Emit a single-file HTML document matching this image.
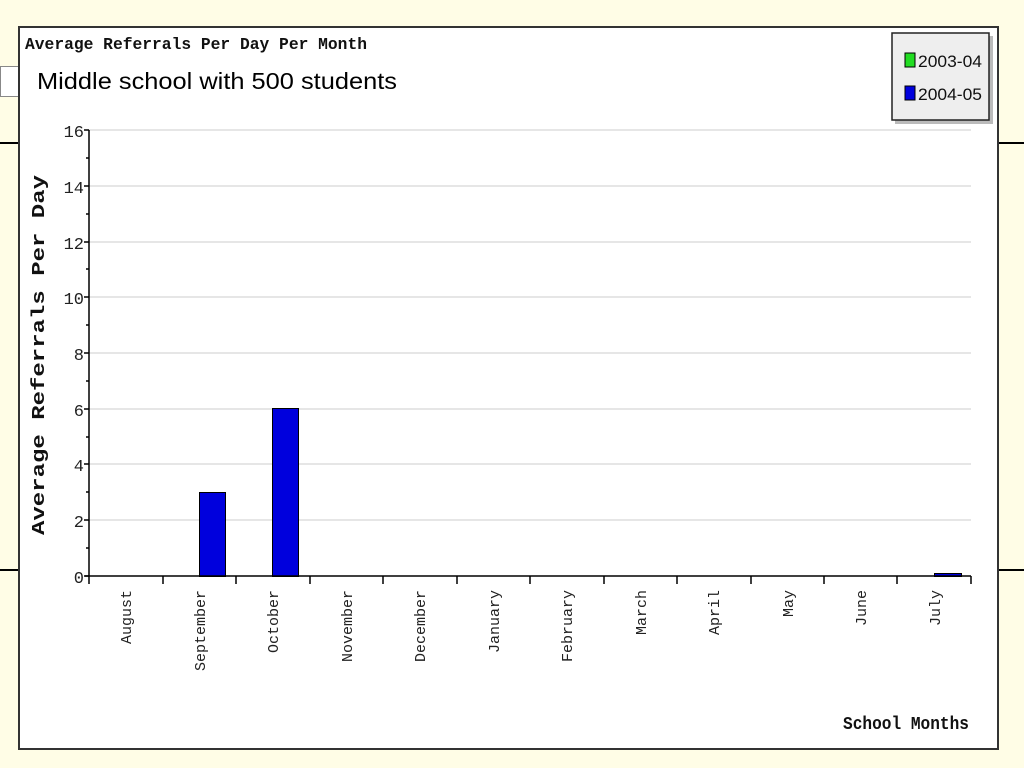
<!DOCTYPE html>
<html><head><style>
body{margin:0;background:#fffde6;width:1024px;height:768px;overflow:hidden}
</style></head><body>
<svg width="1024" height="768" xmlns="http://www.w3.org/2000/svg" style="position:absolute;left:0;top:0">
<rect x="0" y="0" width="1024" height="768" fill="#fffde6"/>
<line x1="0" y1="143" x2="20" y2="143" stroke="#000" stroke-width="2"/>
<line x1="0" y1="570" x2="20" y2="570" stroke="#000" stroke-width="2"/>
<line x1="998" y1="143" x2="1024" y2="143" stroke="#000" stroke-width="2"/>
<line x1="998" y1="570" x2="1024" y2="570" stroke="#000" stroke-width="2"/>
<rect x="0.5" y="66.5" width="22" height="30" fill="#fff" stroke="#888"/>
<rect x="19" y="27" width="979" height="722" fill="#fff" stroke="#333" stroke-width="2"/>
<text x="25" y="49" font-family="Liberation Mono, monospace" font-size="17" font-weight="bold" fill="#111" textLength="342" lengthAdjust="spacingAndGlyphs">Average Referrals Per Day Per Month</text>
<text x="37" y="89" font-family="Liberation Sans, sans-serif" font-size="23" fill="#000" textLength="360" lengthAdjust="spacingAndGlyphs">Middle school with 500 students</text>
<rect x="895" y="36" width="98" height="88" fill="#bbb"/>
<rect x="892" y="33" width="97" height="87" fill="#eee" stroke="#222" stroke-width="1.5"/>
<rect x="905" y="53" width="10" height="14" fill="#22dd22" stroke="#000"/>
<rect x="905" y="86" width="10" height="14" fill="#0000dd" stroke="#000"/>
<text x="918" y="67" font-family="Liberation Sans, sans-serif" font-size="17" fill="#111" textLength="64" lengthAdjust="spacingAndGlyphs">2003-04</text>
<text x="918" y="100" font-family="Liberation Sans, sans-serif" font-size="17" fill="#111" textLength="64" lengthAdjust="spacingAndGlyphs">2004-05</text>
<g stroke="#ddd" stroke-width="1.5">
<line x1="89" y1="130" x2="971" y2="130"/><line x1="89" y1="186" x2="971" y2="186"/>
<line x1="89" y1="242" x2="971" y2="242"/><line x1="89" y1="297" x2="971" y2="297"/>
<line x1="89" y1="353" x2="971" y2="353"/><line x1="89" y1="409" x2="971" y2="409"/>
<line x1="89" y1="464" x2="971" y2="464"/><line x1="89" y1="520" x2="971" y2="520"/>
</g>
<g fill="#0000dd" stroke="#000" stroke-width="1">
<rect x="199.5" y="492.5" width="26" height="84"/>
<rect x="272.5" y="408.5" width="26" height="168"/>
<rect x="934.5" y="573.5" width="27" height="3"/>
</g>
<g stroke="#000" stroke-width="1.5" fill="none">
<line x1="89" y1="130" x2="89" y2="584"/>
<line x1="85" y1="576" x2="971" y2="576"/>
<path d="M84 130H89M84 186H89M84 242H89M84 297H89M84 353H89M84 409H89M84 464H89M84 520H89M84 576H89"/>
<path d="M86 158H89M86 214H89M86 269H89M86 325H89M86 381H89M86 437H89M86 492H89M86 548H89"/>
<path d="M163 576V584M236 576V584M310 576V584M383 576V584M457 576V584M530 576V584M604 576V584M677 576V584M751 576V584M824 576V584M897 576V584M971 576V584"/>
</g>
<g font-family="Liberation Mono, monospace" font-size="17" fill="#222" text-anchor="end">
<text x="84" y="137">16</text><text x="84" y="193">14</text><text x="84" y="249">12</text>
<text x="84" y="304">10</text><text x="84" y="360">8</text><text x="84" y="416">6</text>
<text x="84" y="471">4</text><text x="84" y="527">2</text><text x="84" y="583">0</text>
</g>
<text transform="translate(44,355) rotate(-90)" text-anchor="middle" font-family="Liberation Mono, monospace" font-size="18" font-weight="bold" fill="#111" textLength="360" lengthAdjust="spacingAndGlyphs">Average Referrals Per Day</text>
<g font-family="Liberation Mono, monospace" font-size="15" fill="#222" text-anchor="end">
<text transform="translate(131,590) rotate(-90)">August</text>
<text transform="translate(205,590) rotate(-90)">September</text>
<text transform="translate(278,590) rotate(-90)">October</text>
<text transform="translate(352,590) rotate(-90)">November</text>
<text transform="translate(425,590) rotate(-90)">December</text>
<text transform="translate(499,590) rotate(-90)">January</text>
<text transform="translate(572,590) rotate(-90)">February</text>
<text transform="translate(646,590) rotate(-90)">March</text>
<text transform="translate(719,590) rotate(-90)">April</text>
<text transform="translate(793,590) rotate(-90)">May</text>
<text transform="translate(866,590) rotate(-90)">June</text>
<text transform="translate(940,590) rotate(-90)">July</text>
</g>
<text x="969" y="729" text-anchor="end" font-family="Liberation Mono, monospace" font-size="18" font-weight="bold" fill="#111" textLength="126" lengthAdjust="spacingAndGlyphs">School Months</text>
</svg>
</body></html>
